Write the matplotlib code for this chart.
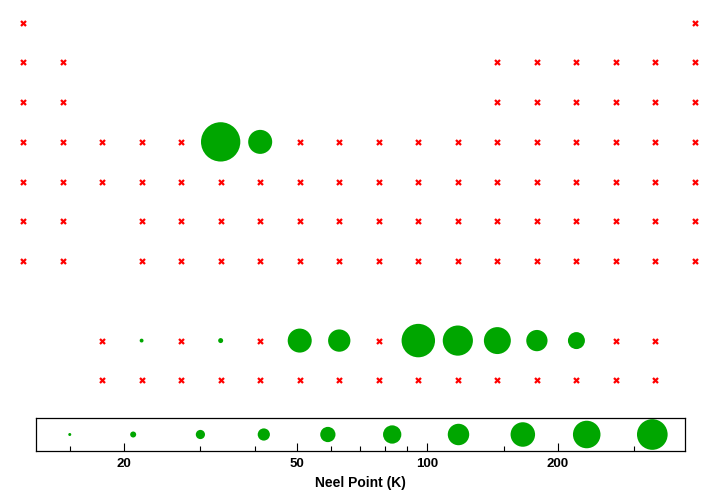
import numpy as np
import matplotlib.pyplot as plt
from matplotlib.ticker import FixedLocator, NullFormatter

plt.rcParams['font.family'] = ['Liberation Sans', 'DejaVu Sans']

# groups occupied in each row of the periodic table (rows 9 and 10 are the f-block)
row_groups = {
    1: [1, 18],
    2: [1, 2] + list(range(13, 19)),
    3: [1, 2] + list(range(13, 19)),
    4: list(range(1, 19)),
    5: list(range(1, 19)),
    6: [1, 2] + list(range(4, 19)),
    7: [1, 2] + list(range(4, 19)),
    9: list(range(3, 18)),
    10: list(range(3, 18)),
}

# antiferromagnetic elements and their Neel points (K)
afm_elements = ["Cr", "Mn", "Ce", "Nd", "Sm", "Eu", "Tb", "Dy", "Ho", "Er", "Tm"]
afm_row = [4, 4, 9, 9, 9, 9, 9, 9, 9, 9, 9]
afm_group = [6, 7, 4, 6, 8, 9, 11, 12, 13, 14, 15]
neel_point = [311, 116, 3, 5, 116, 100, 225, 183, 146, 91, 58]

# size key values (K)
legend_values = [15, 21, 30, 42, 59, 83, 118, 166, 233, 330]

GREEN = '#00a600'
RED = '#ff0000'


def main():
    fig = plt.figure(figsize=(7.2, 4.92), dpi=100)

    # periodic table
    ax = fig.add_axes([0, 0, 1, 1])
    ax.set_axis_off()
    ax.set_xlim(0.418, 18.632)
    ax.set_ylim(12.81, 0.43)

    afm_cells = set(zip(afm_row, afm_group))
    xs, ys = [], []
    for row, groups in row_groups.items():
        for g in groups:
            if (row, g) not in afm_cells:
                xs.append(g)
                ys.append(row)
    ax.plot(xs, ys, 'x', color=RED, markersize=3.6, mew=1.6, linestyle='none')

    # bubble diameter ~ sqrt(Neel point)
    sizes = [(0.72 * 2.23 * np.sqrt(v)) ** 2 for v in neel_point]
    ax.scatter(afm_group, afm_row, s=sizes, color=GREEN, linewidths=0)

    # size key on a log axis
    lax = fig.add_axes([36 / 720, 1 - 451 / 492, 649 / 720, 33 / 492])
    lax.set_xscale('log')
    lax.set_xlim(12.54, 392.5)
    lax.set_ylim(-1, 1)
    leg_sizes = [(0.72 * (3 + 20.6 * np.log10(v / 15))) ** 2 for v in legend_values]
    lax.scatter(legend_values, np.zeros(len(legend_values)), s=leg_sizes,
                color=GREEN, linewidths=0)
    lax.set_yticks([])
    lax.xaxis.set_major_locator(FixedLocator([20, 50, 100, 200]))
    lax.xaxis.set_minor_locator(FixedLocator([15, 30, 40, 60, 70, 80, 90, 150, 300]))
    lax.xaxis.set_major_formatter(plt.FuncFormatter(lambda v, p: '%d' % v))
    lax.xaxis.set_minor_formatter(NullFormatter())
    lax.tick_params(axis='x', which='major', direction='in', length=5.5, width=0.8,
                    labelsize=9.5, pad=5)
    lax.tick_params(axis='x', which='minor', direction='in', length=3.4, width=0.8)
    for lbl in lax.get_xticklabels():
        lbl.set_fontweight('bold')
    for sp in lax.spines.values():
        sp.set_linewidth(0.9)
    lax.set_xlabel('Neel Point (K)', fontsize=10, fontweight='bold', labelpad=4)

    fig.savefig('out.png', dpi=100)


if __name__ == "__main__":
    main()
